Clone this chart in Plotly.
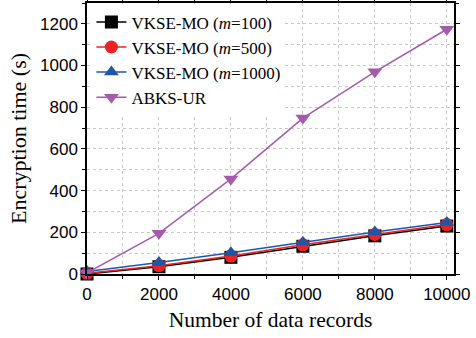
import plotly.graph_objects as go

records = [0, 2000, 4000, 6000, 8000, 10000]
vkse_100 = [0, 35, 80, 133, 183, 230]
vkse_500 = [3, 40, 86, 140, 190, 237]
vkse_1000 = [12, 55, 102, 152, 202, 247]
abks_ur = [5, 195, 456, 748, 970, 1174]

names = ["VKSE-MO (<i>m</i>=100)", "VKSE-MO (<i>m</i>=500)", "VKSE-MO (<i>m</i>=1000)", "ABKS-UR"]
series = [vkse_100, vkse_500, vkse_1000, abks_ur]
colors = ["#000000", "#ee2222", "#1f56a8", "#a55aae"]
symbols = ["square", "circle", "triangle-up", "triangle-down"]

fig = go.Figure()
for n, s, c, sym in zip(names, series, colors, symbols):
    fig.add_trace(go.Scatter(x=records, y=s, name=n, mode="lines+markers",
                             line=dict(color=c, width=1.5), cliponaxis=False,
                             marker=dict(symbol=sym, size=13, color=c)))

axis_common = dict(showline=True, linecolor="black", linewidth=1.5, mirror="allticks",
                   ticks="outside", tickcolor="black", tickwidth=1.2, ticklen=4,
                   showgrid=True, gridcolor="#c8c8c8", griddash="dot", gridwidth=1,
                   zeroline=False, automargin=False, tickformat="d",
                   tickfont=dict(family="Liberation Sans, Arial", size=17, color="black"))

fig.update_xaxes(range=[0, 10200], dtick=2000, title_text="Number of data records",
                 title_font=dict(family="Liberation Serif, Times New Roman", size=21.5, color="black"),
                 title_standoff=9,
                 minor=dict(dtick=1000, ticks="outside", ticklen=3, tickcolor="black",
                            showgrid=True, gridcolor="#c8c8c8", griddash="dot"),
                 **axis_common)
fig.update_yaxes(range=[0, 1300], dtick=200, title_text="Encryption time (s)",
                 title_font=dict(family="Liberation Serif, Times New Roman", size=22, color="black"),
                 title_standoff=7,
                 minor=dict(dtick=100, ticks="outside", ticklen=3, tickcolor="black",
                            showgrid=True, gridcolor="#c8c8c8", griddash="dot"),
                 **axis_common)

fig.update_layout(width=476, height=338, margin=dict(l=87, r=22, t=3, b=64),
                  plot_bgcolor="white", paper_bgcolor="white",
                  legend=dict(x=0.012, y=0.995, xanchor="left", yanchor="top",
                              bgcolor="white", borderwidth=0,
                              font=dict(family="Liberation Serif, Times New Roman", size=17, color="black"),
                              tracegroupgap=0, itemsizing="trace"),
                  showlegend=True)

fig.write_html("out.html", config={"displayModeBar": False},
               post_script="document.body.style.margin='0px';document.body.style.padding='0px';")
